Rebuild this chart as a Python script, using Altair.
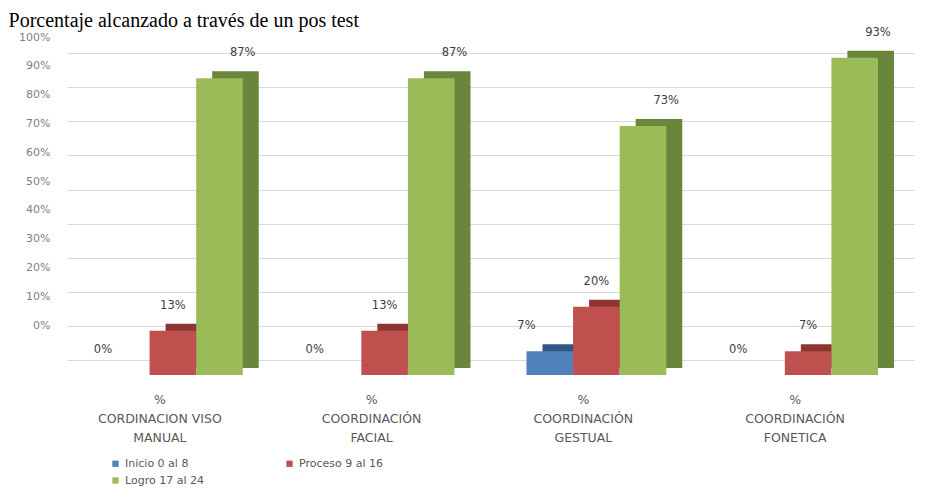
import altair as alt
import pandas as pd

title_text = "Porcentaje alcanzado a través de un pos test"
categories = [
    "CORDINACION VISO\nMANUAL",
    "COORDINACIÓN\nFACIAL",
    "COORDINACIÓN\nGESTUAL",
    "COORDINACIÓN\nFONETICA",
]
series = ["Inicio 0 al 8", "Proceso 9 al 16", "Logro 17 al 24"]
inicio = [0, 0, 7, 0]
proceso = [13, 13, 20, 7]
logro = [87, 87, 73, 93]
y_tick_values = [0, 10, 20, 30, 40, 50, 60, 70, 80, 90, 100]
grid_values = [0, 10, 20, 30, 40, 50, 60, 70, 80, 90]

front_colors = ["#4F81BD", "#C0504D", "#9BBB59"]
side_colors = ["#2F5686", "#8E3431", "#6A863A"]

rows = []
for s, vals in zip(series, [inicio, proceso, logro]):
    for c, v in zip(categories, vals):
        rows.append({"categoria": c, "serie": s, "valor": v})
df = pd.DataFrame(rows)
ylab_df = pd.DataFrame({"v": y_tick_values})

W, H = 847, 341
PAD_IN = 0.34
bandwidth = W * (1 - PAD_IN) / 4
DEPTH_X = 16

x_axis = alt.Axis(
    title=None,
    labelExpr="split('%\\n' + datum.label, '\\n')",
    labelAngle=0,
    domain=False,
    ticks=False,
    labelPadding=33,
    labelFont="DejaVu Sans",
    labelFontSize=12.5,
    labelColor="#595959",
    labelLineHeight=19,
    labelOffset=-13,
)
x_enc = alt.X(
    "categoria:N",
    sort=categories,
    scale=alt.Scale(paddingInner=PAD_IN, paddingOuter=PAD_IN / 2),
    axis=x_axis,
)
y_scale = alt.Scale(domain=[0, 100], nice=False)
y_axis = alt.Axis(title=None, labels=False, ticks=False, domain=False,
                  grid=True, values=grid_values, gridColor="#d9d9d9", gridWidth=1)
y_enc = alt.Y("valor:Q", scale=y_scale, axis=y_axis)

side = alt.Chart(df).mark_bar(yOffset=8, y2Offset=8).encode(
    x=x_enc,
    xOffset=alt.XOffset(
        "serie:N",
        sort=series,
        scale=alt.Scale(domain=series, range=[DEPTH_X, DEPTH_X + bandwidth],
                        paddingInner=0, paddingOuter=0),
    ),
    y=y_enc,
    color=alt.Color("serie:N", scale=alt.Scale(domain=series, range=side_colors), legend=None),
)

front = alt.Chart(df).mark_bar(yOffset=15, y2Offset=15).encode(
    x=x_enc,
    xOffset=alt.XOffset("serie:N", sort=series,
                        scale=alt.Scale(domain=series, paddingInner=0, paddingOuter=0)),
    y=y_enc,
    color=alt.Color(
        "serie:N",
        scale=alt.Scale(domain=series, range=front_colors),
        legend=alt.Legend(
            title=None, orient="none", legendX=43, legendY=439,
            direction="horizontal", columns=2, columnPadding=80, rowPadding=5,
            symbolType="square", symbolSize=40,
            labelFont="DejaVu Sans", labelFontSize=11, labelColor="#595959",
        ),
    ),
)

text = alt.Chart(df).mark_text(
    dy=-10, font="DejaVu Sans", fontSize=11.5, color="#404040"
).encode(
    x=x_enc,
    xOffset=alt.XOffset("serie:N", sort=series,
                        scale=alt.Scale(domain=series, paddingInner=0, paddingOuter=0)),
    y=y_enc,
    text=alt.Text("etiqueta:N"),
).transform_calculate(etiqueta="datum.valor + '%'")

bars = alt.layer(side, front, text).resolve_scale(color="independent", xOffset="independent")

ylab = alt.Chart(ylab_df).mark_point(opacity=0).encode(
    y=alt.Y(
        "v:Q",
        scale=alt.Scale(domain=[-12.15, 106.25], nice=False, zero=False),
        axis=alt.Axis(
            orient="left", values=y_tick_values, labelExpr="datum.value + '%'",
            grid=False, domain=False, ticks=False, tickSize=0, labelPadding=17,
            title=None, labelFont="DejaVu Sans", labelFontSize=11, labelColor="#7f7f7f",
        ),
    )
)

chart = alt.layer(bars, ylab).resolve_scale(y="independent").properties(
    width=W,
    height=H,
    autosize=alt.AutoSizeParams(type="none"),
    padding={"left": 59, "top": 11, "right": 14, "bottom": 129},
    title=alt.Title(
        title_text, anchor="start", font="Liberation Serif", fontSize=20,
        fontWeight="normal", color="black", offset=4, dx=-10, dy=16,
    ),
).configure_view(stroke=None)

chart.save("out.html", embed_options={"renderer": "svg", "actions": False})
